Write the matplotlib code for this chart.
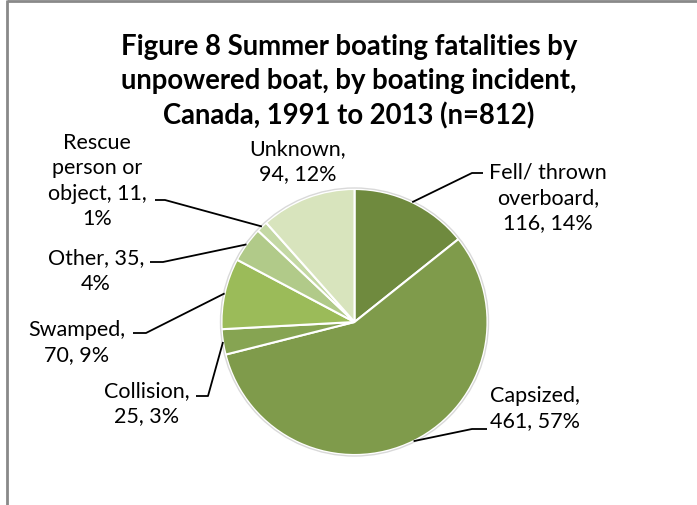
import matplotlib
matplotlib.use('Agg')
import matplotlib.pyplot as plt
import numpy as np

plt.rcParams.update({'font.family': ['Lato', 'DejaVu Sans']})

W, H = 697, 506

incidents = ['Fell/ thrown\noverboard', 'Capsized', 'Collision', 'Swamped',
             'Other', 'Rescue\nperson or\nobject', 'Unknown']
counts = [116, 461, 25, 70, 35, 11, 94]
colors = ['#6F8A3E', '#7F9B4B', '#86A452', '#9BBB59', '#B1CA89', '#C4D8A4', '#D8E4BD']

# label text: "name, count, pct" broken the way the chart wraps it
label_text = [
    'Fell/ thrown\noverboard,\n116, 14%',
    'Capsized,\n461, 57%',
    'Collision,\n25, 3%',
    'Swamped,\n70, 9%',
    'Other, 35,\n4%',
    'Rescue\nperson or\nobject, 11,\n1%',
    'Unknown,\n94, 12%',
]
# label centre, elbow point and end of the short horizontal tick (pixels, y down)
label_pos = [(548, 198), (535, 409), (147, 404), (77, 343), (96, 271), (97, 181), (298, 162)]
elbows = [(472, 174, 483), (472, 430, 487), (208, 397, 196), (146, 334, 133),
          (163, 263, 150), (165, 201, 155), None]

cx, cy, R = 354.5, 323, 133


def fy(y):
    return H - y


fig = plt.figure(figsize=(W / 100, H / 100), dpi=100)
ax = fig.add_axes([0, 0, 1, 1])
ax.set_xlim(0, W)
ax.set_ylim(0, H)
ax.set_aspect('equal')
ax.axis('off')

wedges, _ = ax.pie(counts, colors=colors, startangle=90, counterclock=False,
                   center=(cx, fy(cy)), radius=R,
                   wedgeprops=dict(edgecolor='white', linewidth=1.5))
ax.add_patch(plt.Circle((cx, fy(cy)), R + 1, fill=False, edgecolor='#D9D9D9', linewidth=1))
ax.set_xlim(0, W)
ax.set_ylim(0, H)

for w, txt, pos, el in zip(wedges, label_text, label_pos, elbows):
    ax.text(pos[0], fy(pos[1]), txt, ha='center', va='center', fontsize=15.5,
            linespacing=1.32, color='black')
    if el is None:
        continue
    ang = np.deg2rad((w.theta1 + w.theta2) / 2)
    ex, ey = cx + R * np.cos(ang), fy(cy) + R * np.sin(ang)
    ax.plot([ex, el[0], el[2]], [ey, fy(el[1]), fy(el[1])], color='black', lw=1.3,
            solid_capstyle='butt')

ax.text(349, fy(82), 'Figure 8 Summer boating fatalities by\nunpowered boat, by boating incident,\n'
        'Canada, 1991 to 2013 (n=812)', ha='center', va='center', fontsize=19.8,
        fontweight='bold', linespacing=1.38)

# chart frame
ax.plot([6.5, W], [fy(2), fy(2)], color='#898989', lw=2, solid_capstyle='butt')
ax.plot([6.5, 6.5], [fy(1), 0], color='#898989', lw=2, solid_capstyle='butt')

fig.savefig('out.png', dpi=100)
